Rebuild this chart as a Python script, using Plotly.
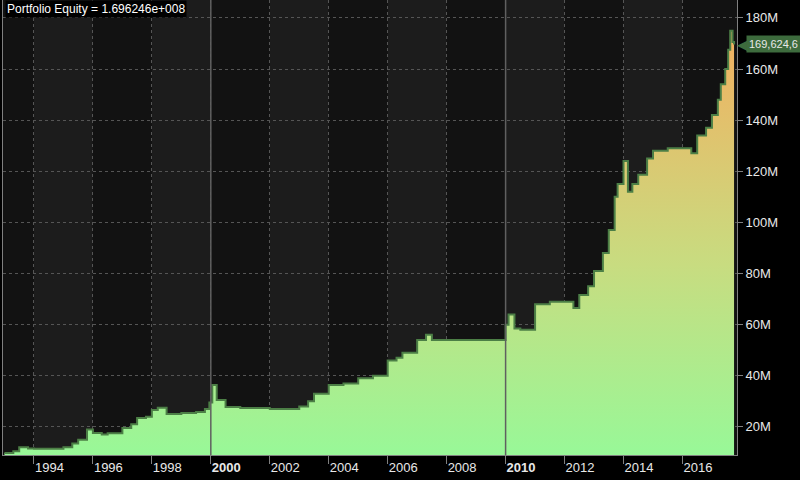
import plotly.graph_objects as go

# equity curve (decimal year, millions)
years = [1993.0, 1993.3, 1993.5, 1993.8, 1994.0, 1994.5, 1995.0, 1995.3, 1995.5, 1995.8, 1996.0, 1996.3,
         1996.5, 1997.0, 1997.3, 1997.5, 1997.8, 1998.0, 1998.2, 1998.5, 1999.0, 1999.5, 1999.8, 1999.95,
         2000.05, 2000.2, 2000.5, 2001.0, 2001.5, 2002.0, 2002.5, 2003.0, 2003.3, 2003.5, 2004.0, 2004.5,
         2005.0, 2005.5, 2006.0, 2006.3, 2006.5, 2007.0, 2007.3, 2007.5, 2008.0, 2009.0, 2009.8, 2010.0,
         2010.1, 2010.3, 2010.5, 2011.0, 2011.5, 2012.0, 2012.3, 2012.5, 2012.8, 2013.0, 2013.3, 2013.5,
         2013.7, 2013.8, 2014.0, 2014.15, 2014.3, 2014.5, 2014.8, 2015.0, 2015.5, 2016.0, 2016.3, 2016.5,
         2016.8, 2017.0, 2017.2, 2017.3, 2017.45, 2017.55, 2017.62, 2017.7, 2017.75]
equity = [9.8, 10.5, 12.0, 11.5, 11.4, 11.4, 12.0, 13.5, 15.0, 19.0, 17.6, 17.0,
          17.5, 19.6, 21.0, 23.5, 24.0, 26.6, 27.5, 25.0, 25.4, 25.8, 27.0, 29.5,
          36.4, 30.5, 27.8, 27.4, 27.4, 27.0, 27.0, 28.0, 30.0, 33.0, 36.4, 37.0,
          39.0, 40.0, 46.0, 47.0, 49.0, 54.0, 56.0, 54.0, 54.0, 54.0, 54.0, 60.0,
          64.0, 58.5, 58.0, 68.0, 69.0, 69.0, 66.5, 71.6, 75.0, 81.0, 88.0, 97.0,
          110.0, 115.0, 124.0, 112.0, 115.0, 118.6, 125.0, 128.0, 129.0, 129.0, 127.0, 134.0,
          137.0, 142.0, 148.0, 154.0, 160.0, 167.5, 175.0, 170.6, 169.6]

y_ticks = [20, 40, 60, 80, 100, 120, 140, 160, 180]
x_ticks = list(range(1994, 2018, 2))
y_min, y_max = 9.0, 187.0

fig = go.Figure()
fig.add_trace(go.Scatter(x=years, y=[y_min] * len(years), mode="lines",
                         line=dict(width=0), hoverinfo="skip", showlegend=False))
fig.add_trace(go.Scatter(
    x=years, y=equity, mode="lines", line=dict(color="#4c7f46", width=2, shape="hv"),
    fill="tonexty",
    fillgradient=dict(type="vertical",
                      colorscale=[[0, "#98f898"], [0.45, "#c8dc80"], [1, "#f2b060"]]),
    showlegend=False))

# alternating 2-year bands
for i, start in enumerate(range(1992, 2018, 2)):
    fig.add_shape(type="rect", xref="x", yref="paper", x0=start, x1=start + 2, y0=0, y1=1,
                  fillcolor="#1c1c1c" if i % 2 else "#121212", line_width=0, layer="below")
for yr in (2000, 2010):
    fig.add_shape(type="line", xref="x", yref="paper", x0=yr, x1=yr, y0=0, y1=1,
                  line=dict(color="#606060", width=1.5), layer="above")

fig.add_annotation(xref="paper", yref="paper", x=0.003, y=1.0, xanchor="left", yanchor="top",
                   text="Portfolio Equity = 1.696246e+008", showarrow=False, bgcolor="black",
                   font=dict(color="white", size=12, family="Liberation Sans"), borderpad=1)
fig.add_annotation(xref="paper", yref="y", x=1.0, y=equity[-1], xanchor="left",
                   text="◀", showarrow=False, xshift=-2,
                   font=dict(color="#3d6b3d", size=16))
fig.add_annotation(xref="paper", yref="y", x=1.0, y=equity[-1], xanchor="left",
                   text="169,624,6", showarrow=False, xshift=9, bgcolor="#3d6b3d",
                   font=dict(color="#e8e8e8", size=11, family="Liberation Sans"), borderpad=2)

fig.update_layout(
    width=800, height=480, margin=dict(l=3, r=63, t=0, b=25, autoexpand=False),
    paper_bgcolor="black", plot_bgcolor="#121212",
    xaxis=dict(range=[1992.95, 2017.85], tickvals=x_ticks, automargin=False,
               ticktext=[f"<b>{y}</b>" if y % 10 == 0 else str(y) for y in x_ticks],
               ticklabelposition="outside right", ticks="outside", ticklen=8, tickcolor="#808080",
               showgrid=True, gridcolor="#555555", griddash="dot", gridwidth=1,
               showline=True, linecolor="#808080", mirror=True, zeroline=False,
               tickfont=dict(color="#e8e8e8", size=13, family="Liberation Sans")),
    yaxis=dict(range=[y_min, y_max], side="right", tickvals=y_ticks, automargin=False,
               ticktext=[f"{v}M" for v in y_ticks], ticks="outside", ticklen=5, tickcolor="#808080",
               showgrid=True, gridcolor="#555555", griddash="dot", gridwidth=1,
               showline=True, linecolor="#808080", mirror=True, zeroline=False,
               tickfont=dict(color="#e8e8e8", size=13, family="Liberation Sans")),
)

fig.write_html("out.html", config={"displayModeBar": False},
               post_script="document.body.style.margin='0';")
